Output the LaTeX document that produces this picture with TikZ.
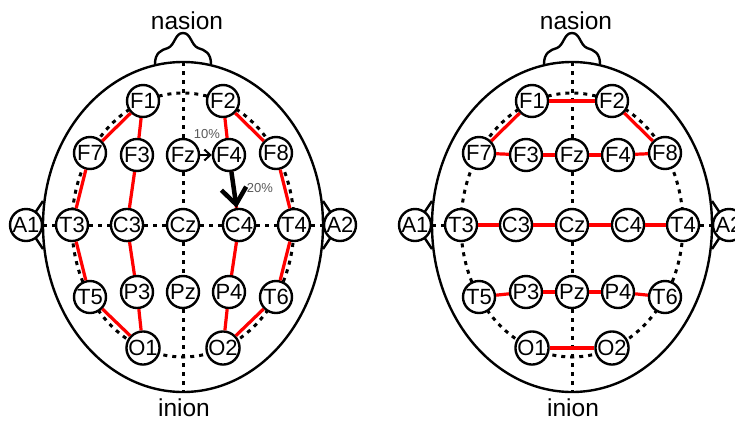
\documentclass[tikz,border=0pt]{standalone}
\usepackage{fontspec}
\setmainfont{Liberation Sans}
\usetikzlibrary{arrows.meta}

\tikzset{
  electrode/.style={circle, draw, line width=2.4pt, fill=white, inner sep=0pt,
    minimum size=32pt, font=\fontsize{22}{22}\selectfont},
  guide/.style={line width=3pt, dash pattern=on 4pt off 5pt},
  chain/.style={red, line width=3.2pt},
  skull/.style={line width=2.4pt},
  landmark/.style={inner sep=0pt, font=\fontsize{24.5}{26}\selectfont},
  percent/.style={font=\fontsize{13}{13}\selectfont, text=black!65},
}

% head outline, nose, ears, 10-20 guides and electrodes, centred on Cz
\newcommand{\headmap}{%
  \draw[skull] (-140,0) arc[start angle=180, end angle=360, x radius=140, y radius=163]
    arc[start angle=0, end angle=180, x radius=140, y radius=167];
  % nose
  \draw[skull] (-28,-161) .. controls (-28,-172) and (-22,-175) .. (-15,-177)
    .. controls (-8,-180) and (-8,-192) .. (0,-192)
    .. controls (8,-192) and (8,-180) .. (15,-177)
    .. controls (22,-175) and (28,-172) .. (28,-161);
  % ears
  \draw[skull] (-140,-24) -- (-148,-12) (-140,24) -- (-148,12);
  \draw[skull] (140,-24) -- (148,-12) (140,24) -- (148,12);
  \draw[guide] (0,0) ellipse [x radius=111, y radius=132];
  \coordinate (nasion) at (0,-163);
  \coordinate (inion) at (0,167);
  \node[landmark] (nasion label) at (4,-204) {nasion};
  \node[landmark] (inion label) at (1,183) {inion};
  % electrodes
  \foreach \name/\x/\y in {F1/-40/-124, F2/40/-124,
      F7/-93/-72, F3/-46/-70, Fz/0/-70, F4/46/-70, F8/93/-72,
      A1/-157/0, T3/-111/0, C3/-56/0, Cz/0/0, C4/56/0, T4/111/0, A2/157/0,
      T5/-93/72, P3/-46/67, Pz/0/67, P4/46/67, T6/93/72,
      O1/-40/123, O2/40/123}
    \node[electrode] (\name) at (\x,\y) {\name};
  \foreach \a/\b in {nasion/Fz, Fz/Cz, Cz/Pz, Pz/inion,
      A1/T3, T3/C3, C3/Cz, Cz/C4, C4/T4, T4/A2}
    \draw[guide] (\a) -- (\b);
}

\begin{document}
\begin{tikzpicture}[x=1pt, y=-1pt]
  \useasboundingbox (0,0) rectangle (735,421);
  \clip (0,0) rectangle (735,421);
  % longitudinal montage, with the 10% and 20% steps
  \begin{scope}[shift={(183,225)}, name prefix=L-]
    \headmap
    \foreach \a/\b in {F1/F7, F7/T3, T3/T5, T5/O1, F1/F3, F3/C3, C3/P3, P3/O1,
        F2/F4, F4/C4, C4/P4, P4/O2, F2/F8, F8/T4, T4/T6, T6/O2}
      \draw[chain] (\a) -- (\b);
    \draw[line width=2pt, -{Straight Barb[length=6pt, width=11pt]}] (Fz) -- (F4);
    \draw[line width=4.5pt, -{Straight Barb[length=16pt, width=25pt]}] (F4) -- (C4);
    \node[percent] (ten) at (24,-91) {10\%};
    \node[percent] (twenty) at (77,-37) {20\%};
  \end{scope}
  % transverse montage
  \begin{scope}[shift={(572,225)}, name prefix=R-]
    \headmap
    \foreach \a/\b in {F7/F1, F1/F2, F2/F8, F7/F3, F3/Fz, Fz/F4, F4/F8,
        T3/C3, C3/Cz, Cz/C4, C4/T4, T5/P3, P3/Pz, Pz/P4, P4/T6, O1/O2}
      \draw[chain] (\a) -- (\b);
  \end{scope}
\end{tikzpicture}
\end{document}
